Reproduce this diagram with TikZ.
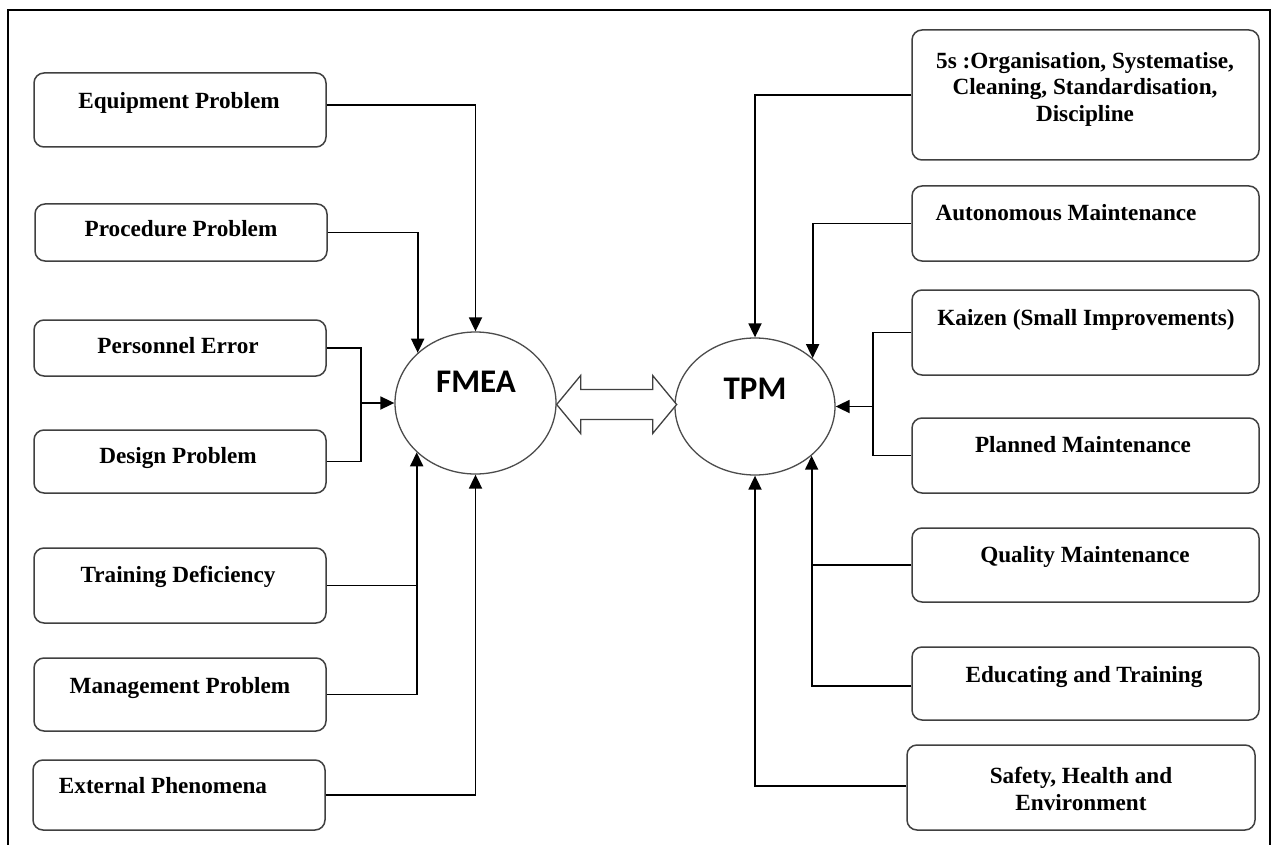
\documentclass[tikz,border=0pt]{standalone}
\usepackage{fontspec}
\setmainfont{Liberation Serif}
\newfontfamily\hubfont{Carlito}
\usetikzlibrary{arrows.meta,shapes.geometric}

\tikzset{
  box/.style={draw=black!75, line width=1.5pt, rounded corners=10pt, inner sep=0pt, fill=white},
  lbox/.style={box, minimum width=292pt},
  rbox/.style={box, minimum width=347pt},
  txt/.style={font=\bfseries\fontsize{23.2}{26.5}\selectfont, inner sep=0pt, align=center},
  conn/.style={draw=black, line width=1.8pt, -{Triangle[length=14pt,width=13pt]}},
  wire/.style={draw=black, line width=1.8pt},
  hub/.style={ellipse, draw=black!70, line width=1.3pt, inner sep=0pt, fill=white},
  hubtxt/.style={font=\hubfont\bfseries\fontsize{33}{36}\selectfont, inner sep=0pt, anchor=center},
  frame/.style={draw=black, line width=2pt},
  dblarrow/.style={draw=black!75, line width=1.3pt, fill=white, line join=miter},
}

\begin{document}
\begin{tikzpicture}[x=1pt,y=-1pt]
\useasboundingbox (0,0) rectangle (1279,845);
\fill[white] (0,0) rectangle (1279,845);

% outer frame (open at the bottom)
\draw[frame] (8,846) -- (8,10) -- (1270,10) -- (1270,846);

% central hubs
\node[hub, minimum width=161pt, minimum height=142pt] (fmea) at (475.5,403) {};
\node[hubtxt] (fmeat) at (476,382) {FMEA};
\node[hub, minimum width=160pt, minimum height=137pt] (tpm) at (755,406.5) {};
\node[hubtxt] (tpmt) at (755,389) {TPM};

% two-way arrow between the hubs
\draw[dblarrow] (fmea.east) ++(0,1.5) -- ++(24,-29) -- ++(0,14) -- ++(72,0) -- ++(0,-14)
  -- ++(24,29) -- ++(-24,29) -- ++(0,-14) -- ++(-72,0) -- ++(0,14) -- cycle;

% FMEA inputs
\node[lbox, minimum height=74pt] (eq) at (180,110) {};
\node[txt, anchor=base] (eqt) at (179,108.5) {Equipment Problem};
\node[lbox, minimum height=57pt] (pr) at (181,232.5) {};
\node[txt, anchor=base] (prt) at (181,236.5) {Procedure Problem};
\node[lbox, minimum height=56pt] (pe) at (180,348) {};
\node[txt, anchor=base] (pet) at (178,353.5) {Personnel Error};
\node[lbox, minimum height=63pt] (de) at (180,461.5) {};
\node[txt, anchor=base] (det) at (178,463.5) {Design Problem};
\node[lbox, minimum height=75pt] (tr) at (180,585.5) {};
\node[txt, anchor=base] (trt) at (178,582.5) {Training Deficiency};
\node[lbox, minimum height=73pt] (mg) at (180,694.5) {};
\node[txt, anchor=base] (mgt) at (180,693.5) {Management Problem};
\node[lbox, minimum height=70pt] (ex) at (179,795) {};
\node[txt, anchor=base] (ext) at (163,793.5) {External Phenomena};

% TPM pillars
\node[rbox, minimum height=130pt] (fs) at (1085.5,95) {};
\node[txt] (fst) at (1085,89) {5s :Organisation, Systematise,\\Cleaning, Standardisation,\\Discipline};
\node[rbox, minimum height=75pt] (am) at (1085.5,223.5) {};
\node[txt, anchor=base] (amt) at (1066,220.5) {Autonomous Maintenance};
\node[rbox, minimum height=85pt] (kz) at (1085.5,332.5) {};
\node[txt, anchor=base] (kzt) at (1086,325.5) {Kaizen (Small Improvements)};
\node[rbox, minimum height=75pt] (pm) at (1085.5,455.5) {};
\node[txt, anchor=base] (pmt) at (1083,452.5) {Planned Maintenance};
\node[rbox, minimum height=74pt] (qm) at (1085.5,565) {};
\node[txt, anchor=base] (qmt) at (1085,562.5) {Quality Maintenance};
\node[rbox, minimum height=73pt] (et) at (1085.5,683.5) {};
\node[txt, anchor=base] (ett) at (1084,682.5) {Educating and Training};
\node[rbox, minimum width=348pt, minimum height=85pt] (sh) at (1081,787.5) {};
\node[txt] (sht) at (1081,789) {Safety, Health and\\Environment};

% connectors into FMEA
\draw[conn] ([yshift=5pt]eq.east) -| (fmea.north);
\draw[conn] (pr.east) -| (fmea.139.2);
\coordinate (jl) at (361,403);
\draw[wire] (pe.east) -| (jl);
\draw[wire] (de.east) -| (jl);
\draw[conn] (jl) -- (fmea.west);
\draw[wire] (tr.east) -- (tr.east -| fmea.220.8);
\draw[conn] (mg.east) -| (fmea.220.8);
\draw[conn] (ex.east) -| (fmea.south);

% connectors into TPM
\draw[conn] (fs.west) -| (tpm.north);
\draw[conn] (am.west) -| (tpm.40.2);
\coordinate (jr) at (873,406.5);
\draw[wire] (kz.west) -| (jr);
\draw[wire] (pm.west) -| (jr);
\draw[conn] (jr) -- (tpm.east);
\draw[wire] (qm.west) -- (qm.west -| tpm.319.8);
\draw[conn] ([yshift=-2.5pt]et.west) -| (tpm.319.8);
\draw[conn] ([yshift=1.5pt]sh.west) -| (tpm.south);
\end{tikzpicture}
\end{document}
